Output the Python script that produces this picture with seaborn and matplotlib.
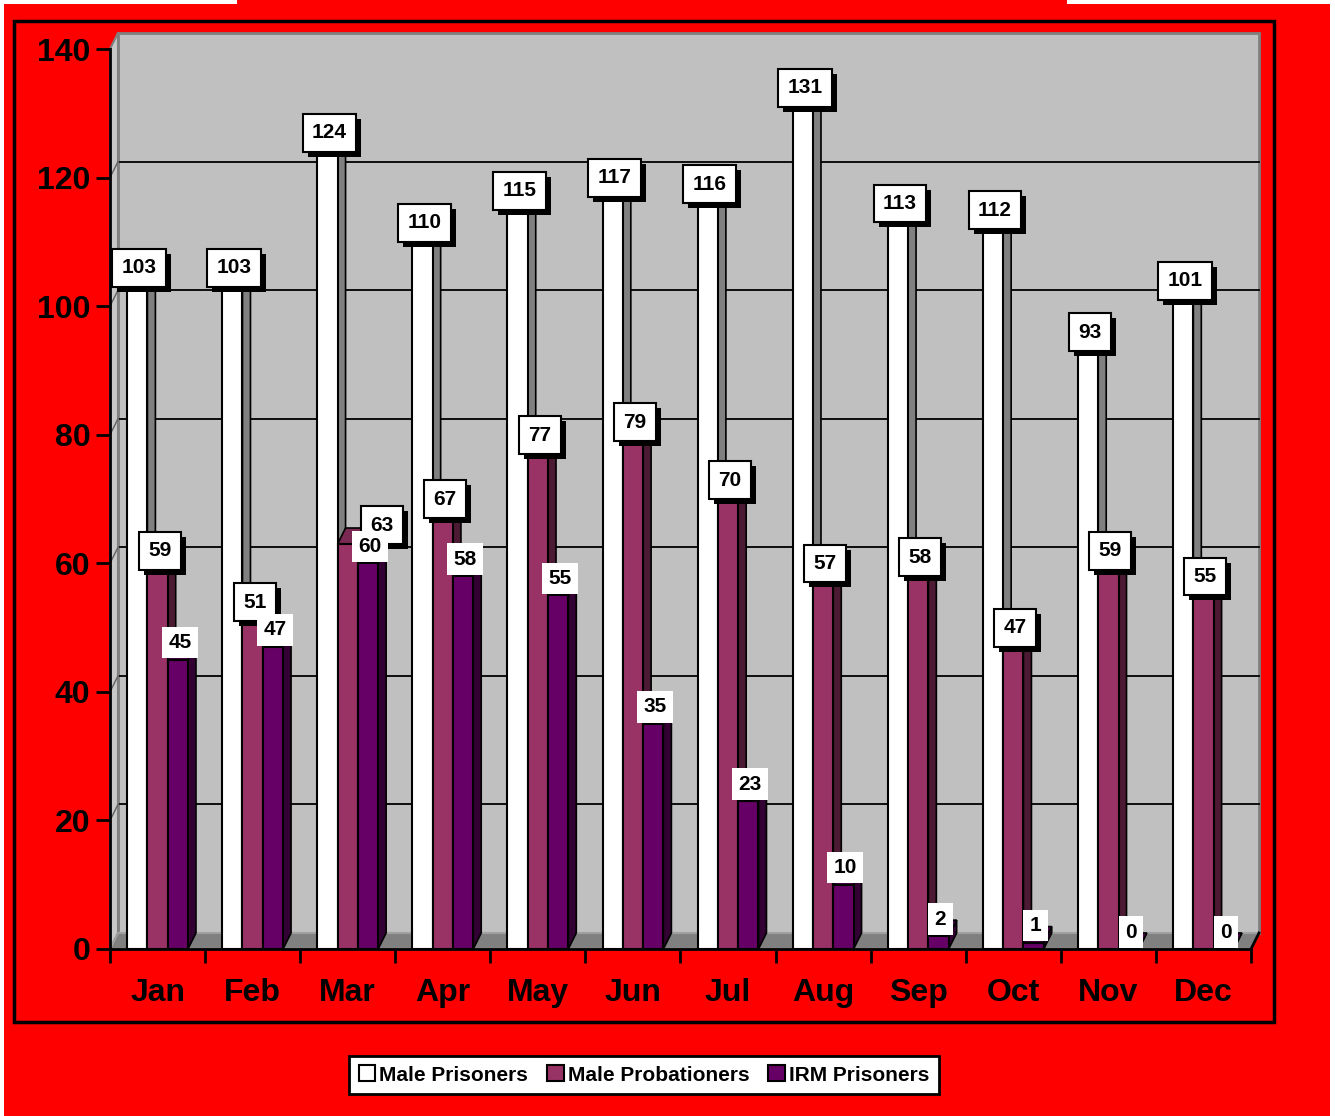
import numpy as np
import pandas as pd
import matplotlib
matplotlib.use("Agg")
import matplotlib.pyplot as plt
import matplotlib.patches as mpatches
import matplotlib.transforms as mtransforms
import matplotlib.patheffects as pe
import seaborn as sns

months = ["Jan", "Feb", "Mar", "Apr", "May", "Jun", "Jul", "Aug", "Sep", "Oct", "Nov", "Dec"]
series_names = ["Male Prisoners", "Male Probationers", "IRM Prisoners"]
male_prisoners = [103, 103, 124, 110, 115, 117, 116, 131, 113, 112, 93, 101]
male_probationers = [59, 51, 63, 67, 77, 79, 70, 57, 58, 47, 59, 55]
irm_prisoners = [45, 47, 60, 58, 55, 35, 23, 10, 2, 1, 0, 0]
y_ticks = [0, 20, 40, 60, 80, 100, 120, 140]

colors = ["#FFFFFF", "#993366", "#660066"]
side_colors = ["#808080", "#4D1A33", "#330033"]
top_colors = ["#E6E6E6", "#7A2952", "#4D004D"]

plt.rcParams['font.family'] = ['Liberation Sans', 'DejaVu Sans']
plt.rcParams['font.weight'] = 'bold'

W, H = 1335, 1116
fig = plt.figure(figsize=(W / 100, H / 100), dpi=100, facecolor="white")

# red background and frame
fig.patches.append(mpatches.Rectangle((4 / W, 0), (1330 - 4) / W, (H - 4) / H,
                                      transform=fig.transFigure, fc="#FF0000", ec="none", zorder=-10))
fig.patches.append(mpatches.Rectangle((237 / W, (H - 5) / H), (1067 - 237) / W, 5 / H,
                                      transform=fig.transFigure, fc="#FF0000", ec="none", zorder=-10))
fig.patches.append(mpatches.Rectangle((14 / W, (H - 1022) / H), (1274 - 14) / W, (1022 - 21) / H,
                                      transform=fig.transFigure, fc="none", ec="black", lw=2.5, zorder=-9))

ax = fig.add_axes([110 / W, (H - 949) / H, (1251 - 110) / W, (949 - 49) / H])
ax.set_facecolor("none")

df = pd.DataFrame({
    "Month": months * 3,
    "Series": [series_names[0]] * 12 + [series_names[1]] * 12 + [series_names[2]] * 12,
    "Count": male_prisoners + male_probationers + irm_prisoners,
})

sns.barplot(data=df, x="Month", y="Count", hue="Series", order=months, hue_order=series_names,
            palette=colors, saturation=1, width=0.64, gap=0, edgecolor="black", linewidth=1.5,
            errorbar=None, ax=ax, zorder=2)

ax.set_xlim(-0.5, len(months) - 0.5)
ax.set_ylim(0, 140)

DX, DY = 8, 16
back = mtransforms.offset_copy(ax.transData, fig=fig, x=DX, y=DY, units="dots")
ident = mtransforms.IdentityTransform()

# back wall
ax.add_patch(mpatches.Rectangle((-0.5, 0), len(months), 140, transform=back, fc="#C0C0C0",
                                ec="#808080", lw=2, zorder=0, clip_on=False))
for yv in y_ticks[1:-1]:
    ax.plot([-0.5, len(months) - 0.5], [yv, yv], transform=back, color="black", lw=1.3,
            zorder=0.2, clip_on=False)

def disp(x, y):
    return ax.transData.transform((x, y))

x0, x1 = -0.5, len(months) - 0.5
p_bl, p_tl = disp(x0, 0), disp(x0, 140)
p_br = disp(x1, 0)
left_wall = [p_bl, p_tl, p_tl + [DX, DY], p_bl + [DX, DY]]
ax.add_patch(mpatches.Polygon(left_wall, closed=True, transform=ident, fc="#C8C8C8",
                              ec="#808080", lw=1.5, zorder=0.3, clip_on=False))
for yv in y_ticks[1:-1]:
    p = disp(x0, yv)
    ax.plot([p[0], p[0] + DX], [p[1], p[1] + DY], transform=ident, color="#606060", lw=1,
            zorder=0.35, clip_on=False)
floor = [p_bl, p_br, p_br + [DX, DY], p_bl + [DX, DY]]
ax.add_patch(mpatches.Polygon(floor, closed=True, transform=ident, fc="#808080",
                              ec="#A0A0A0", lw=1.5, zorder=0.4, clip_on=False))
ax.plot([p_br[0], p_br[0] + DX], [p_br[1], p_br[1] + DY], transform=ident, color="black",
        lw=2, zorder=0.45, clip_on=False)

# 3D sides and tops of bars
series_vals = [male_prisoners, male_probationers, irm_prisoners]
for si, cont in enumerate(ax.containers):
    for bar in cont:
        bx, bw, bh = bar.get_x(), bar.get_width(), bar.get_height()
        b = disp(bx + bw, 0)
        c = disp(bx + bw, bh)
        d = disp(bx, bh)
        off = np.array([DX, DY])
        side = [b, c, c + off, b + off]
        top = [d, c, c + off, d + off]
        ax.add_patch(mpatches.Polygon(side, closed=True, transform=ident, fc=side_colors[si],
                                      ec="black", lw=1.2, zorder=1.5, clip_on=False))
        ax.add_patch(mpatches.Polygon(top, closed=True, transform=ident, fc=top_colors[si],
                                      ec="black", lw=1.2, zorder=1.6, clip_on=False))
        bar.set_zorder(2)

# value labels
label_nudge = {(1, 2): 32}
shadow = [pe.SimplePatchShadow(offset=(3.6, -3.6), shadow_rgbFace="black", alpha=1), pe.Normal()]
for si, cont in enumerate(ax.containers):
    for mi, bar in enumerate(cont):
        val = series_vals[si][mi]
        cx = bar.get_x() + bar.get_width() / 2
        nx = 2 + label_nudge.get((si, mi), 0)
        if si < 2:
            t = ax.annotate(str(val), xy=(cx, val), xytext=(nx, 19), textcoords="offset pixels",
                            ha="center", va="center", fontsize=15, fontweight="bold", color="black",
                            bbox=dict(boxstyle="square,pad=0.45", fc="white", ec="black", lw=1.5),
                            zorder=6, annotation_clip=False)
            t.get_bbox_patch().set_path_effects(shadow)
        else:
            ax.annotate(str(val), xy=(cx, val), xytext=(nx, 17), textcoords="offset pixels",
                        ha="center", va="center", fontsize=15, fontweight="bold", color="black",
                        bbox=dict(boxstyle="square,pad=0.3", fc="white", ec="none"),
                        zorder=7, annotation_clip=False)

# axes styling
for s in ["top", "right"]:
    ax.spines[s].set_visible(False)
for s in ["left", "bottom"]:
    ax.spines[s].set_color("black")
    ax.spines[s].set_linewidth(2)
    ax.spines[s].set_zorder(3)

ax.set_yticks(y_ticks)
ax.set_yticklabels([str(v) for v in y_ticks], fontsize=23, fontweight="bold")
ax.tick_params(axis="y", length=10, width=2, pad=4, color="black")
ax.set_xticks(range(len(months)))
ax.set_xticklabels(months, fontsize=23, fontweight="bold")
ax.set_xticks(np.arange(-0.5, len(months)), minor=True)
ax.tick_params(axis="x", which="major", length=0, pad=21)
ax.tick_params(axis="x", which="minor", length=10, width=2, color="black")
ax.set_xlabel("")
ax.set_ylabel("")
ax.grid(False)

# legend
handles, labels = ax.get_legend_handles_labels()
if ax.get_legend() is not None:
    ax.get_legend().remove()
leg = fig.legend(handles, labels, loc="center", bbox_to_anchor=(644 / W, 1 - 1075 / H),
                 ncol=3, frameon=True, fancybox=False, framealpha=1,
                 prop={"weight": "bold", "size": 15},
                 handlelength=0.8, handleheight=0.8, handletextpad=0.2, columnspacing=0.9,
                 borderpad=0.45, borderaxespad=0)
leg.get_frame().set_edgecolor("black")
leg.get_frame().set_linewidth(2)
leg.get_frame().set_facecolor("white")
for h in leg.legend_handles:
    h.set_edgecolor("black")
    h.set_linewidth(1.5)

fig.savefig("out.png", dpi=100, facecolor=fig.get_facecolor())
